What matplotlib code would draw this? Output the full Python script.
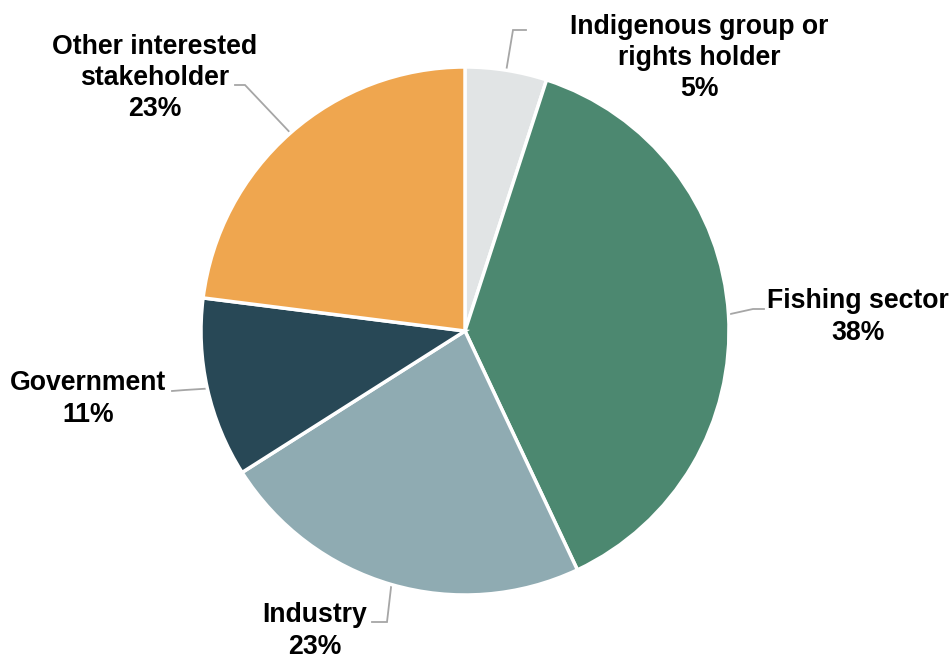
import numpy as np
import matplotlib as mpl
mpl.use('Agg')
import matplotlib.pyplot as plt

# data
categories = ['Indigenous group or\nrights holder', 'Fishing sector', 'Industry',
              'Government', 'Other interested\nstakeholder']
shares = [5, 38, 23, 11, 23]
colors = ['#E1E4E5', '#4C8870', '#8FABB2', '#284856', '#EFA64F']

# label layout, pixel coords (x, y from top): text centre, elbow, line end
label_pos = [(699, 58), (858, 317), (315, 631), (88, 399), (155, 78)]
elbows = [(513, 30), (753, 309), (387, 622), (185, 390), (245, 85)]
line_ends = [(526, 30), (764, 309), (372, 622), (172, 391), (235, 85)]

W, H = 953, 658
fig = plt.figure(figsize=(W / 100, H / 100), dpi=100)
ax = fig.add_axes([0, 0, 1, 1])

cx, cy, r = 465, H - 331, 264
wedges, _ = ax.pie(shares, colors=colors, startangle=90, counterclock=False,
                   center=(cx, cy), radius=r, frame=True,
                   wedgeprops=dict(edgecolor='white', linewidth=2.5))
ax.set_xlim(0, W)
ax.set_ylim(0, H)
ax.set_aspect('equal')
ax.axis('off')

for i, w in enumerate(wedges):
    ang = np.deg2rad((w.theta1 + w.theta2) / 2.)
    px, py = cx + r * np.cos(ang), cy + r * np.sin(ang)
    ex, ey = elbows[i]
    lx, ly = line_ends[i]
    ax.plot([px, ex, lx], [py, H - ey, H - ly], color='#A6A6A6', lw=1.3,
            solid_joinstyle='miter', zorder=0.5)
    tx, ty = label_pos[i]
    ax.text(tx, H - ty, '%s\n%d%%' % (categories[i], shares[i]), ha='center', va='center',
            fontsize=19.2, fontweight='bold', family='Liberation Sans',
            linespacing=1.25, color='black')

fig.savefig('out.png', dpi=100, facecolor='white')
